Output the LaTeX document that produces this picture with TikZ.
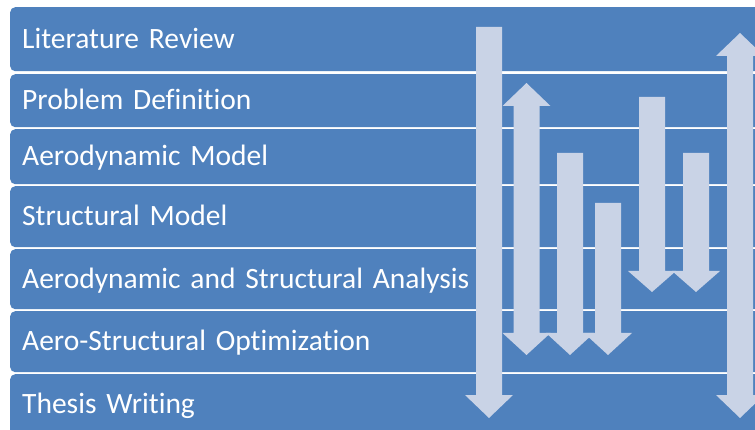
\documentclass[tikz,border=0pt]{standalone}
\usepackage{fontspec}
\setmainfont{Carlito}[WordSpace=0.6, Ligatures={NoCommon}]
\definecolor{rowblue}{RGB}{79,129,189}
\definecolor{arrowfill}{RGB}{201,211,230}
% block arrows: centre x, shaft top / tips and head bases (y grows downward)
\newcommand{\DownBlock}[4]{%
  \fill[blockarrow] (#1-13,#2) -- (#1+13,#2) -- (#1+13,#3) -- (#1+24,#3)
    -- (#1,#4) -- (#1-24,#3) -- (#1-13,#3) -- cycle;}
\newcommand{\TwoWayBlock}[5]{%
  \fill[blockarrow] (#1,#2) -- (#1+24,#3) -- (#1+13,#3) -- (#1+13,#4)
    -- (#1+24,#4) -- (#1,#5) -- (#1-24,#4) -- (#1-13,#4) -- (#1-13,#3)
    -- (#1-24,#3) -- cycle;}
\begin{document}
\begin{tikzpicture}[x=1pt,y=-1pt,
  row/.style={anchor=north west, fill=rowblue, rounded corners=5pt,
    text=white, font=\fontsize{29.5}{34}\selectfont, align=left,
    text width=780pt, inner xsep=12pt, inner ysep=0pt,
    text height=18.5pt, text depth=0pt},
  blockarrow/.style={fill=arrowfill}]
\useasboundingbox (0,0) rectangle (755,430);
\clip (0,0) rectangle (755,430);
\fill[white] (0,0) rectangle (755,430);

% task rows
\node[row, minimum height=64pt] (lit)  at (10,7)   {Literature Review};
\node[row, minimum height=53pt] (prob) at (10,74)  {Problem Definition};
\node[row, minimum height=55pt] (aero) at (10,129) {Aerodynamic Model};
\node[row, minimum height=61pt] (str)  at (10,186) {Structural Model};
\node[row, minimum height=60pt] (ana)  at (10,249) {Aerodynamic and Structural Analysis};
\node[row, minimum height=61pt] (opt)  at (10,311) {Aero-Structural Optimization};
\node[row, minimum height=61pt] (thes) at (10,374) {Thesis Writing};

% activity spans
\DownBlock{489}{27}{395}{418}
\TwoWayBlock{526.5}{83}{106}{333}{355}
\DownBlock{570}{153}{333}{355}
\DownBlock{608}{203}{333}{355}
\DownBlock{652}{97}{271}{292}
\DownBlock{696}{153}{271}{292}
\TwoWayBlock{740}{33}{56}{395}{418}
\end{tikzpicture}
\end{document}
